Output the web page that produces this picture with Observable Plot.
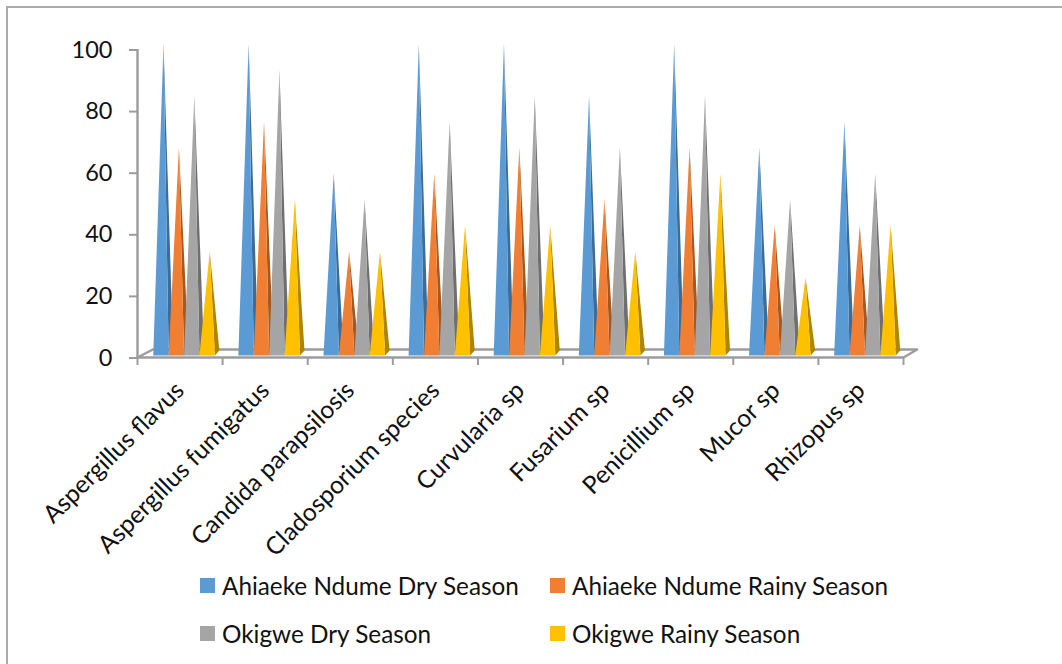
<!DOCTYPE html>
<html>
<head>
<meta charset="utf-8">
<script src="https://cdn.jsdelivr.net/npm/d3@7"></script>
<script src="https://cdn.jsdelivr.net/npm/@observablehq/plot@0.6"></script>
<style>
  html, body { margin: 0; padding: 0; background: #fff; }
  #page { position: relative; width: 1062px; height: 664px; overflow: hidden; font-family: Lato, sans-serif; color: #111; }
  #edge { position: absolute; left: 6px; top: 6px; width: 1100px; height: 700px; border-top: 2px solid #ababab; border-left: 2px solid #ababab; }
  #chart { position: absolute; left: 0; top: 0; }
  #legend { position: absolute; left: 200px; top: 563px; display: grid; grid-template-columns: 350px 350px; grid-auto-rows: 48px; font-size: 24.3px; }
  #legend div { display: flex; align-items: center; height: 44px; white-space: nowrap; }
  #legend i { display: block; width: 15px; height: 15px; margin-right: 7px; }
</style>
</head>
<body>
<div id="page">
  <div id="edge"></div>
  <div id="chart"></div>
  <div id="legend"></div>
</div>
<script>
// Occurrence (%) of fungal isolates by site and season.
const categories = ["Aspergillus flavus", "Aspergillus fumigatus", "Candida parapsilosis", "Cladosporium species", "Curvularia sp", "Fusarium sp", "Penicillium sp", "Mucor sp", "Rhizopus sp"];
const seriesNames = ["Ahiaeke Ndume Dry Season", "Ahiaeke Ndume Rainy Season", "Okigwe Dry Season", "Okigwe Rainy Season"];
const ahiaekeDry = [100, 100, 58.3, 100, 100, 83.3, 100, 66.7, 75];
const ahiaekeRainy = [66.7, 75, 33.3, 58.3, 66.7, 50, 66.7, 41.7, 41.7];
const okigweDry = [83.3, 91.7, 50, 75, 83.3, 66.7, 83.3, 50, 58.3];
const okigweRainy = [33.3, 50, 33.3, 41.7, 41.7, 33.3, 58.3, 25, 41.7];
const yTicks = [0, 20, 40, 60, 80, 100];

const frontColors = ["#5b9bd5", "#f07f33", "#a5a5a5", "#ffc000"];
const sideColors = ["#3d6c96", "#a5581f", "#6f6f6f", "#ad8500"];
const axisColor = "#9c9c9c";
const labelFont = "Lato, sans-serif";

// Pseudo-3D layout, in x units (one category = 1) and y units (percent).
const groupStart = 0.185, coneWidth = 0.181, apexShift = 0.03;
const sideDepth = 0.053, sideRise = 1.6, apexGain = 1.012;
const floorDepth = 0.18, floorRise = 2.6;

const allValues = [ahiaekeDry, ahiaekeRainy, okigweDry, okigweRainy];

function frontFace(values, s) {
  return values.flatMap((v, i) => {
    const left = i + groupStart + s * coneWidth;
    const right = left + coneWidth;
    const apex = (left + right) / 2 + apexShift;
    return [[left, 0], [apex, v * apexGain], [right, 0]].map(([x, y]) => ({x, y, cone: i}));
  });
}
function sideFace(values, s) {
  return values.flatMap((v, i) => {
    const left = i + groupStart + s * coneWidth;
    const right = left + coneWidth;
    const apex = (left + right) / 2 + apexShift;
    return [[apex, v * apexGain], [right, 0], [right + sideDepth, sideRise]].map(([x, y]) => ({x, y, cone: i}));
  });
}

const n = categories.length;
const floor = [[0, 0], [n, 0], [n + floorDepth - 0.02, floorRise], [floorDepth, floorRise], [0, 0]].map(([x, y]) => ({x, y}));

const coneMarks = allValues.flatMap((values, s) => [
  Plot.line(sideFace(values, s), {x: "x", y: "y", z: "cone", fill: sideColors[s], stroke: "none", dy: -2}),
  Plot.line(frontFace(values, s), {x: "x", y: "y", z: "cone", fill: frontColors[s], stroke: "none", dy: -2})
]);

const chart = Plot.plot({
  width: 1062,
  height: 565,
  marginLeft: 137,
  marginRight: 159,
  marginTop: 49,
  marginBottom: 208,
  style: {background: "transparent", overflow: "visible"},
  x: {type: "linear", domain: [0, n], axis: null},
  y: {type: "linear", domain: [0, 100], axis: null},
  marks: [
    Plot.ruleX([0], {y1: 0, y2: 100, stroke: axisColor, strokeWidth: 2.4}),
    Plot.line(floor, {x: "x", y: "y", fill: "#fff", stroke: axisColor, strokeWidth: 2.4}),
    Plot.axisY(yTicks, {anchor: "left", tickSize: 8, tickPadding: 17, fontSize: 23.5, fontFamily: labelFont, stroke: axisColor, strokeWidth: 2, fill: "#111", label: null, textStroke: "none", dy: 0.5}),
    Plot.axisX(d3.range(n + 1), {anchor: "bottom", tickSize: 8, tickFormat: () => "", stroke: axisColor, strokeWidth: 2, label: null}),
    ...coneMarks,
    Plot.text(categories, {
      x: (d, i) => i + 0.5, y: 0, text: d => d,
      rotate: -45, textAnchor: "end", dx: 0, dy: 29,
      fontSize: 24.6, fontFamily: labelFont, fill: "#111"
    })
  ]
});
document.getElementById("chart").append(chart);

const legend = document.getElementById("legend");
seriesNames.forEach((name, s) => {
  const item = document.createElement("div");
  const swatch = document.createElement("i");
  swatch.style.background = frontColors[s];
  item.append(swatch, document.createTextNode(name));
  legend.append(item);
});
</script>
</body>
</html>
